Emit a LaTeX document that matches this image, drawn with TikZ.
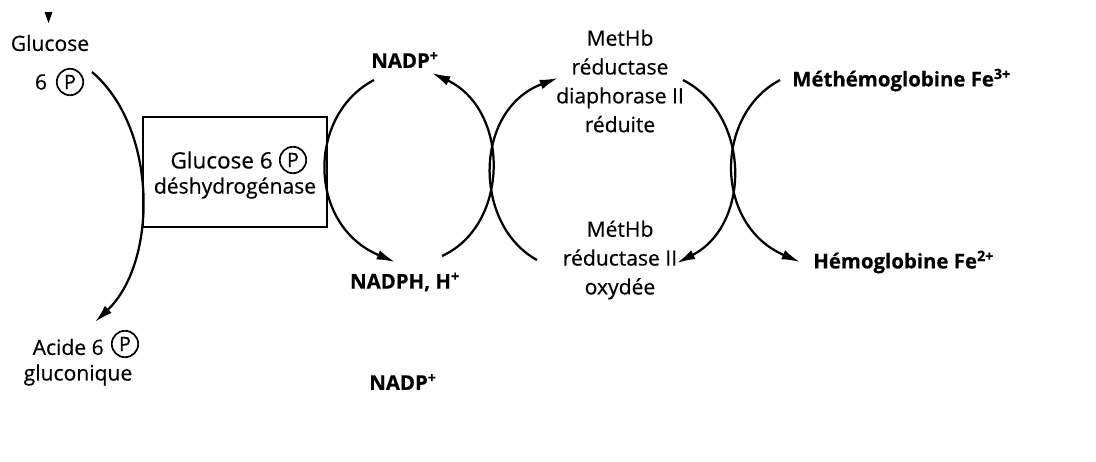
\documentclass[tikz,border=0pt]{standalone}
\usepackage{fontspec}
\setmainfont{Open Sans}[FakeBold=0.5]
\usetikzlibrary{arrows.meta}
\begin{document}
\begin{tikzpicture}[x=0.025cm,y=-0.025cm,
  lbl/.style={inner sep=0pt, font=\fontsize{15}{20.5}\selectfont, align=center},
  blbl/.style={inner sep=0pt, font=\fontsize{14.5}{18}\selectfont\bfseries},
  pcirc/.style={circle, draw, line width=1.2pt, inner sep=0pt, minimum size=0.66cm, font=\fontsize{14}{15}\selectfont},
  arc/.style={line width=1.6pt},
  arr/.style={arc, -{Latex[length=13pt,width=7pt]}},
  enz/.style={draw, line width=2pt, minimum width=4.6cm, minimum height=2.75cm, inner sep=0pt}
]
\useasboundingbox (0,0) rectangle (1096,461);

% left part
\fill (44.5,12) -- (52.5,12) -- (48.5,23) -- cycle;
\node[lbl] (glu) at (50,43) {Glucose};
\node[lbl] (g6) at (41,82) {6};
\node[pcirc] (gP) at (70,82) {P};

\node[enz] (box) at (235,172) {};
\node[lbl, anchor=east, font=\fontsize{16}{20}\selectfont] (bt1) at (273,160) {Glucose 6};
\node[pcirc] (bP) at (293,160) {P};
\node[lbl] (bt2) at (235,188) {déshydrogénase};

\node[lbl, anchor=east] (ac) at (104,347) {Acide 6};
\node[pcirc] (aP) at (125,344) {P};
\node[lbl] (gluc) at (78,375) {gluconique};

% NADP cycle labels
\node[blbl] (nadp) at (405,60) {NADP\textsuperscript{+}};
\node[blbl] (nadph) at (405,282) {NADPH, H\textsuperscript{+}};
\node[blbl] (nadp2) at (403,382) {NADP\textsuperscript{+}};

% MetHb reductase labels
\node[lbl] (red) at (620,81) {MetHb\\réductase\\diaphorase II\\réduite};
\node[lbl] (oxy) at (620,260) {MétHb\\réductase II\\oxydée};

% hemoglobin labels
\node[blbl, anchor=west] (methb) at (792,80) {Méthémoglobine Fe\textsuperscript{3+}};
\node[blbl, anchor=west] (hb) at (813,262) {Hémoglobine Fe\textsuperscript{2+}};

% arc end points
\coordinate (g1) at (92,72);
\coordinate (g2) at (95,322);
\coordinate (n1) at (374,80);
\coordinate (n2) at (395,262);
\coordinate (n3) at (442,256);
\coordinate (n4) at (432,73);
\coordinate (m1) at (537,260);
\coordinate (m2) at (558,78);
\coordinate (m3) at (683,80);
\coordinate (m4) at (677,263);
\coordinate (h1) at (780,80);
\coordinate (h2) at (800,262);

\draw[arr] (g1) .. controls (158,128) and (158,262) .. (g2);
\draw[arr] (n1) .. controls (307,115) and (307,225) .. (n2);
\draw[arr] (n3) .. controls (510,225) and (510,110) .. (n4);
\draw[arr] (m1) .. controls (473,225) and (473,110) .. (m2);
\draw[arr] (m3) .. controls (751,115) and (751,225) .. (m4);
\draw[arr] (h1) .. controls (714,115) and (714,225) .. (h2);
\end{tikzpicture}
\end{document}
